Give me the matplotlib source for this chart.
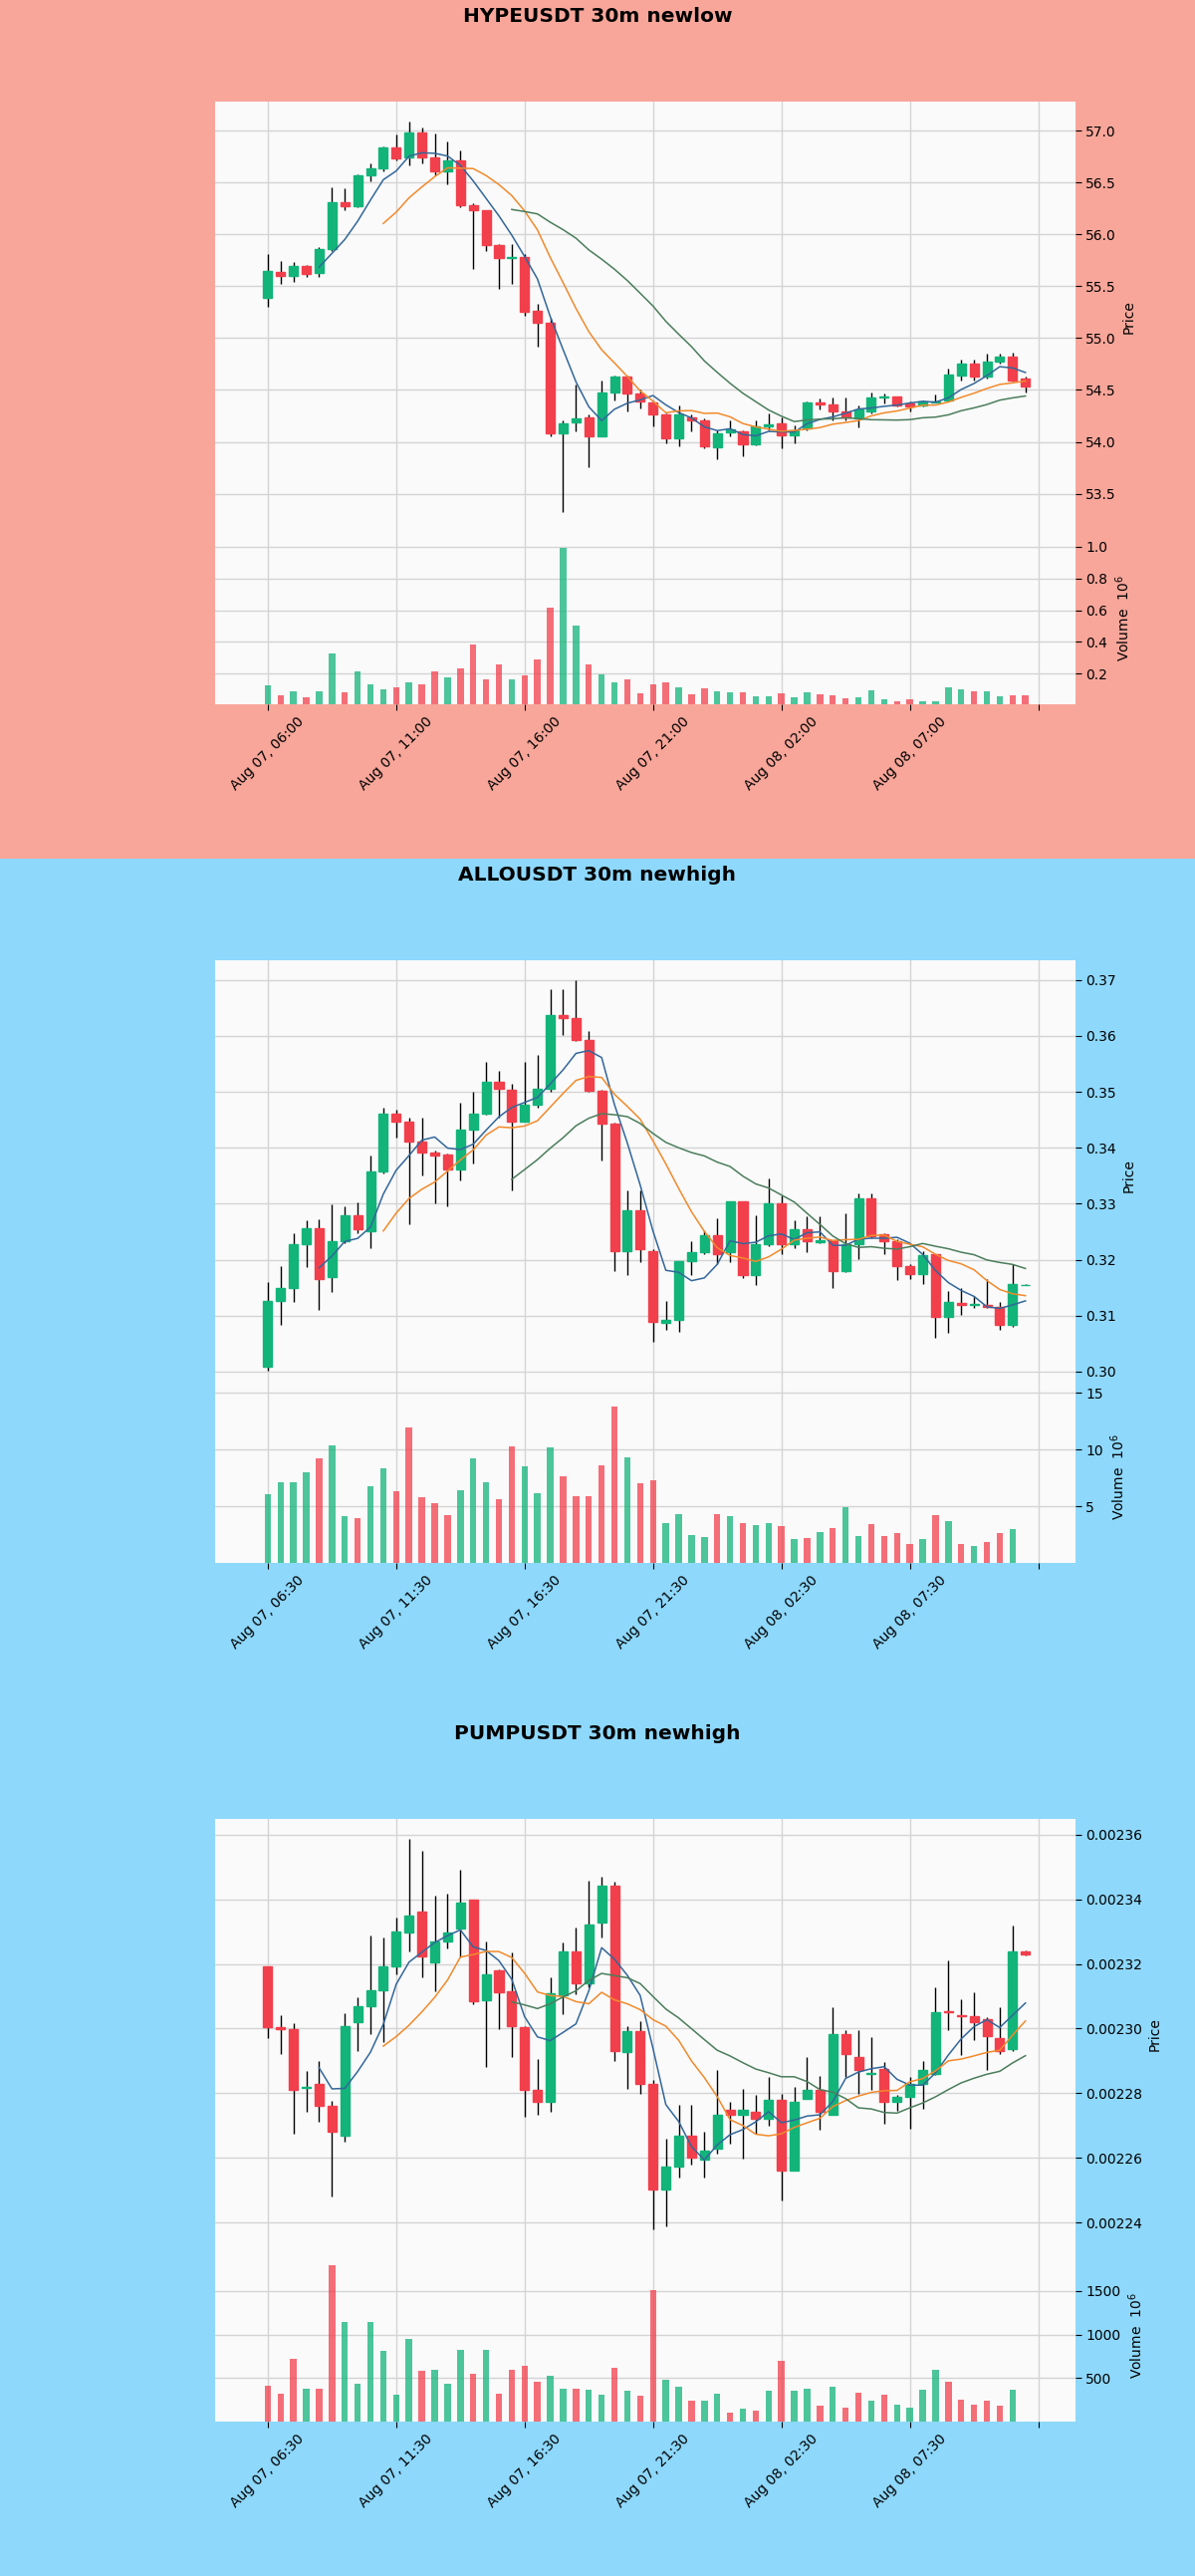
import numpy as np
import pandas as pd
import matplotlib
matplotlib.use('Agg')
import matplotlib.pyplot as plt
from matplotlib.ticker import MultipleLocator, MaxNLocator, FuncFormatter
from matplotlib.patches import Rectangle

# ---------------- data ----------------
titles = ["HYPEUSDT 30m newlow", "ALLOUSDT 30m newhigh", "PUMPUSDT 30m newhigh"]
starts = ["2025-08-07 06:00", "2025-08-07 06:30", "2025-08-07 06:30"]

hype_open = [55.39, 55.64, 55.60, 55.69, 55.63, 55.86, 56.31, 56.27, 56.57, 56.64,
             56.84, 56.74, 56.98, 56.74, 56.61, 56.71, 56.28, 56.23, 55.90, 55.77,
             55.78, 55.26, 55.15, 54.08, 54.19, 54.24, 54.05, 54.48, 54.63, 54.47,
             54.38, 54.26, 54.03, 54.24, 54.21, 53.95, 54.09, 54.10, 53.98, 54.15,
             54.18, 54.06, 54.13, 54.38, 54.36, 54.29, 54.23, 54.29, 54.43, 54.44,
             54.37, 54.35, 54.38, 54.40, 54.64, 54.75, 54.63, 54.77, 54.82, 54.61]
hype_high = [55.81, 55.74, 55.73, 55.70, 55.88, 56.45, 56.44, 56.58, 56.68, 56.85,
             56.96, 57.09, 57.03, 56.97, 56.89, 56.81, 56.30, 56.23, 55.91, 55.91,
             55.81, 55.33, 55.20, 54.21, 54.55, 54.26, 54.59, 54.64, 54.64, 54.50,
             54.40, 54.27, 54.35, 54.26, 54.23, 54.11, 54.21, 54.11, 54.21, 54.27,
             54.24, 54.16, 54.39, 54.42, 54.43, 54.43, 54.35, 54.48, 54.47, 54.44,
             54.39, 54.40, 54.46, 54.71, 54.79, 54.79, 54.85, 54.85, 54.86, 54.63]
hype_low = [55.30, 55.52, 55.54, 55.59, 55.59, 55.84, 56.23, 56.26, 56.51, 56.61,
            56.71, 56.66, 56.68, 56.57, 56.48, 56.26, 55.67, 55.84, 55.47, 55.52,
            55.21, 54.92, 54.05, 53.32, 54.10, 53.76, 54.05, 54.40, 54.29, 54.32,
            54.15, 53.99, 53.96, 54.10, 53.94, 53.83, 54.05, 53.86, 53.97, 54.11,
            53.94, 53.99, 54.11, 54.31, 54.21, 54.21, 54.14, 54.27, 54.37, 54.34,
            54.29, 54.34, 54.38, 54.39, 54.59, 54.59, 54.61, 54.75, 54.58, 54.48]
hype_close = [55.65, 55.60, 55.69, 55.62, 55.86, 56.31, 56.27, 56.57, 56.64, 56.84,
              56.73, 56.98, 56.74, 56.61, 56.71, 56.28, 56.23, 55.90, 55.77, 55.78,
              55.25, 55.15, 54.08, 54.18, 54.23, 54.05, 54.48, 54.63, 54.47, 54.39,
              54.26, 54.03, 54.26, 54.21, 53.96, 54.08, 54.12, 53.98, 54.15, 54.17,
              54.06, 54.11, 54.38, 54.36, 54.29, 54.24, 54.31, 54.43, 54.44, 54.35,
              54.34, 54.39, 54.39, 54.65, 54.75, 54.63, 54.77, 54.82, 54.59, 54.53]
hype_vol_m = [0.126, 0.065, 0.090, 0.048, 0.086, 0.326, 0.084, 0.212, 0.132, 0.099,
              0.111, 0.143, 0.132, 0.216, 0.174, 0.231, 0.384, 0.164, 0.258, 0.164,
              0.189, 0.290, 0.616, 0.994, 0.500, 0.258, 0.195, 0.143, 0.164, 0.076,
              0.132, 0.143, 0.111, 0.069, 0.105, 0.090, 0.080, 0.084, 0.055, 0.055,
              0.074, 0.048, 0.080, 0.069, 0.063, 0.042, 0.053, 0.097, 0.038, 0.023,
              0.038, 0.023, 0.027, 0.116, 0.100, 0.090, 0.090, 0.057, 0.065, 0.065]

allo_open = [0.3008, 0.3127, 0.3150, 0.3227, 0.3257, 0.3169, 0.3233, 0.3280, 0.3251, 0.3358,
             0.3461, 0.3446, 0.3411, 0.3392, 0.3388, 0.3362, 0.3432, 0.3460, 0.3517, 0.3503,
             0.3446, 0.3477, 0.3505, 0.3637, 0.3631, 0.3593, 0.3502, 0.3443, 0.3216, 0.3289,
             0.3216, 0.3087, 0.3093, 0.3198, 0.3214, 0.3243, 0.3213, 0.3304, 0.3172, 0.3227,
             0.3300, 0.3227, 0.3254, 0.3232, 0.3234, 0.3180, 0.3227, 0.3309, 0.3245, 0.3233,
             0.3189, 0.3174, 0.3210, 0.3098, 0.3123, 0.3119, 0.3120, 0.3116, 0.3083, 0.3155]
allo_high = [0.3160, 0.3189, 0.3248, 0.3271, 0.3272, 0.3298, 0.3295, 0.3303, 0.3386, 0.3472,
             0.3468, 0.3453, 0.3453, 0.3395, 0.3389, 0.3480, 0.3500, 0.3553, 0.3537, 0.3515,
             0.3553, 0.3565, 0.3684, 0.3684, 0.3700, 0.3609, 0.3503, 0.3445, 0.3324, 0.3324,
             0.3219, 0.3127, 0.3198, 0.3233, 0.3253, 0.3274, 0.3304, 0.3304, 0.3280, 0.3345,
             0.3315, 0.3271, 0.3277, 0.3277, 0.3234, 0.3283, 0.3318, 0.3319, 0.3248, 0.3236,
             0.3192, 0.3215, 0.3210, 0.3144, 0.3149, 0.3136, 0.3166, 0.3125, 0.3192, 0.3156]
allo_low = [0.3001, 0.3083, 0.3125, 0.3186, 0.3110, 0.3142, 0.3230, 0.3248, 0.3221, 0.3354,
            0.3418, 0.3263, 0.3351, 0.3301, 0.3295, 0.3341, 0.3371, 0.3459, 0.3453, 0.3324,
            0.3446, 0.3471, 0.3500, 0.3601, 0.3591, 0.3500, 0.3377, 0.3180, 0.3172, 0.3195,
            0.3054, 0.3075, 0.3071, 0.3172, 0.3210, 0.3192, 0.3195, 0.3167, 0.3154, 0.3224,
            0.3210, 0.3221, 0.3214, 0.3230, 0.3150, 0.3177, 0.3201, 0.3239, 0.3210, 0.3163,
            0.3165, 0.3157, 0.3060, 0.3070, 0.3101, 0.3113, 0.3114, 0.3075, 0.3080, 0.3154]
allo_close = [0.3127, 0.3150, 0.3227, 0.3257, 0.3166, 0.3233, 0.3280, 0.3254, 0.3358, 0.3461,
              0.3446, 0.3411, 0.3392, 0.3386, 0.3362, 0.3432, 0.3460, 0.3517, 0.3505, 0.3446,
              0.3477, 0.3505, 0.3637, 0.3631, 0.3593, 0.3502, 0.3443, 0.3216, 0.3289, 0.3218,
              0.3089, 0.3093, 0.3198, 0.3214, 0.3243, 0.3210, 0.3304, 0.3172, 0.3227, 0.3300,
              0.3227, 0.3254, 0.3233, 0.3234, 0.3180, 0.3227, 0.3309, 0.3242, 0.3233, 0.3189,
              0.3174, 0.3209, 0.3098, 0.3125, 0.3119, 0.3121, 0.3116, 0.3083, 0.3157, 0.3155]
allo_vol_m = [6.08, 7.16, 7.16, 8.04, 9.24, 10.40, 4.15, 3.95, 6.78, 8.36,
              6.37, 11.99, 5.82, 5.32, 4.24, 6.43, 9.24, 7.16, 5.64, 10.29,
              8.51, 6.17, 10.23, 7.66, 5.94, 5.94, 8.65, 13.83, 9.36, 7.02,
              7.31, 3.54, 4.33, 2.46, 2.34, 4.33, 4.18, 3.54, 3.36, 3.51,
              3.27, 2.13, 2.22, 2.75, 3.10, 4.97, 2.40, 3.45, 2.37, 2.66,
              1.70, 2.08, 4.24, 3.74, 1.70, 1.52, 1.84, 2.69, 3.01, 0.05]

pump_open = [0.0023191, 0.0023006, 0.0022999, 0.0022818, 0.0022830, 0.0022760, 0.0022670, 0.0023020, 0.0023069, 0.0023119,
             0.0023191, 0.0023297, 0.0023361, 0.0023205, 0.0023271, 0.0023310, 0.0023398, 0.0023088, 0.0023179, 0.0023117,
             0.0023006, 0.0022811, 0.0022773, 0.0023102, 0.0023240, 0.0023140, 0.0023328, 0.0023441, 0.0022927, 0.0022991,
             0.0022830, 0.0022501, 0.0022573, 0.0022670, 0.0022595, 0.0022629, 0.0022749, 0.0022732, 0.0022742, 0.0022722,
             0.0022780, 0.0022562, 0.0022783, 0.0022811, 0.0022732, 0.0022984, 0.0022912, 0.0022861, 0.0022876, 0.0022773,
             0.0022789, 0.0022830, 0.0022861, 0.0023053, 0.0023040, 0.0023038, 0.0023030, 0.0022971, 0.0022937, 0.0023240]
pump_high = [0.0023191, 0.0023040, 0.0023017, 0.0022869, 0.0022901, 0.0022778, 0.0023047, 0.0023097, 0.0023287, 0.0023282,
             0.0023343, 0.0023588, 0.0023551, 0.0023412, 0.0023418, 0.0023491, 0.0023400, 0.0023271, 0.0023184, 0.0023237,
             0.0023009, 0.0022907, 0.0023158, 0.0023266, 0.0023312, 0.0023459, 0.0023469, 0.0023455, 0.0023009, 0.0023023,
             0.0022840, 0.0022660, 0.0022763, 0.0022763, 0.0022681, 0.0022871, 0.0022773, 0.0022814, 0.0022794, 0.0022850,
             0.0022799, 0.0022821, 0.0022912, 0.0022855, 0.0023066, 0.0022994, 0.0022994, 0.0022973, 0.0022896, 0.0022794,
             0.0022850, 0.0022901, 0.0023128, 0.0023210, 0.0023092, 0.0023112, 0.0023035, 0.0023066, 0.0023320, 0.0023242]
pump_low = [0.0022971, 0.0022922, 0.0022676, 0.0022742, 0.0022711, 0.0022480, 0.0022650, 0.0022932, 0.0022984, 0.0022958,
            0.0023169, 0.0023240, 0.0023160, 0.0023117, 0.0023249, 0.0023220, 0.0023074, 0.0022881, 0.0022999, 0.0022912,
            0.0022727, 0.0022732, 0.0022742, 0.0023045, 0.0023107, 0.0023127, 0.0023282, 0.0022901, 0.0022814, 0.0022799,
            0.0022378, 0.0022388, 0.0022540, 0.0022578, 0.0022540, 0.0022614, 0.0022645, 0.0022597, 0.0022676, 0.0022701,
            0.0022470, 0.0022562, 0.0022783, 0.0022686, 0.0022732, 0.0022850, 0.0022799, 0.0022809, 0.0022706, 0.0022747,
            0.0022691, 0.0022753, 0.0022856, 0.0022994, 0.0022917, 0.0022963, 0.0022871, 0.0022922, 0.0022930, 0.0023225]
pump_close = [0.0023006, 0.0022999, 0.0022809, 0.0022819, 0.0022760, 0.0022681, 0.0023007, 0.0023069, 0.0023119, 0.0023191,
              0.0023299, 0.0023350, 0.0023222, 0.0023269, 0.0023297, 0.0023389, 0.0023086, 0.0023167, 0.0023112, 0.0023009,
              0.0022811, 0.0022773, 0.0023109, 0.0023240, 0.0023140, 0.0023321, 0.0023441, 0.0022932, 0.0022991, 0.0022828,
              0.0022501, 0.0022573, 0.0022670, 0.0022602, 0.0022624, 0.0022732, 0.0022732, 0.0022749, 0.0022722, 0.0022780,
              0.0022562, 0.0022773, 0.0022811, 0.0022742, 0.0022984, 0.0022920, 0.0022871, 0.0022863, 0.0022773, 0.0022789,
              0.0022830, 0.0022871, 0.0023051, 0.0023051, 0.0023038, 0.0023020, 0.0022978, 0.0022930, 0.0023240, 0.0023228]
pump_vol_m = [410, 316, 718, 372, 372, 1797, 1143, 429, 1139, 812,
              305, 951, 587, 594, 429, 823, 549, 823, 316, 598,
              643, 459, 530, 380, 372, 361, 305, 613, 350, 293,
              1508, 481, 406, 237, 237, 316, 109, 147, 124, 350,
              692, 350, 380, 180, 399, 162, 331, 237, 305, 192,
              165, 361, 598, 462, 248, 192, 237, 180, 361, 2]

ma_windows = [5, 10, 20]

# ---------------- style ----------------
W, H = 1200, 2586
PANEL_H = 862
BG = ['#F8A69A', '#8ED8FC', '#8ED8FC']
UP = '#12B47A'
DOWN = '#F23F4C'
MA_COLORS = ['#33679a', '#f28a2c', '#4b7d5c']

fig = plt.figure(figsize=(W / 100, H / 100), dpi=100)
fig.patch.set_facecolor(BG[1])


def fy(px):
    return 1 - px / H


def draw_panel(k, title, start, o, h, l, c, vol):
    o, h, l, c, vol = map(np.asarray, (o, h, l, c, vol))
    n = len(o)
    top = k * PANEL_H
    fig.add_artist(Rectangle((0, fy(top + PANEL_H)), 1, PANEL_H / H,
                             transform=fig.transFigure, facecolor=BG[k],
                             edgecolor='none', zorder=-10))
    fig.text(0.5, fy(top + 16), title, ha='center', va='center',
             fontsize=14.5, fontweight='bold')

    left, right = 216 / W, 1080 / W
    axp = fig.add_axes([left, fy(top + 534), right - left, (534 - 102) / H])
    axv = fig.add_axes([left, fy(top + 707), right - left, (707 - 534) / H], sharex=axp)

    x = np.arange(n)
    up = c >= o
    cols = np.where(up, UP, DOWN)

    # candles
    axp.vlines(x, l, h, color='black', linewidth=1.0, zorder=2)
    axp.bar(x, np.abs(c - o), bottom=np.minimum(o, c), width=0.7,
            color=cols, edgecolor=cols, linewidth=1.0, zorder=3)
    s = pd.Series(c)
    for w, col in zip(ma_windows, MA_COLORS):
        axp.plot(x, s.rolling(w).mean(), color=col, linewidth=1.1, zorder=4)

    rng = h.max() - l.min()
    axp.set_ylim(l.min() - 0.05 * rng, h.max() + 0.05 * rng)
    axp.yaxis.set_major_locator(MaxNLocator(nbins=10, steps=[1, 2, 2.5, 5, 10]))

    # volume
    axv.bar(x, vol, width=0.5, color=cols, alpha=0.75, zorder=3)
    axv.set_ylim(0.3 * vol.min(), 1.1 * vol.max())

    dates = pd.date_range(start, periods=n, freq='30min')

    def fmt(val, pos):
        i = int(round(val))
        if 0 <= i < n:
            return dates[i].strftime('%b %d, %H:%M')
        return ''

    axp.set_xlim(-4.1, 62.9)
    axv.xaxis.set_major_locator(MultipleLocator(10))
    axv.xaxis.set_major_formatter(FuncFormatter(fmt))

    for ax in (axp, axv):
        ax.set_facecolor('#fafafa')
        ax.grid(True, color='#d4d4d4', linewidth=1.0)
        ax.set_axisbelow(True)
        for sp in ax.spines.values():
            sp.set_visible(False)
        ax.yaxis.tick_right()
        ax.yaxis.set_label_position('right')
        ax.tick_params(axis='both', labelsize=10, length=4, width=0.8)
    axp.tick_params(axis='x', bottom=False, labelbottom=False)
    for lab in axv.get_xticklabels():
        lab.set_rotation(45)
        lab.set_ha('center')
    axp.set_ylabel('Price', fontsize=10)
    axv.set_ylabel('Volume  $10^{6}$', fontsize=10)


draw_panel(0, titles[0], starts[0], hype_open, hype_high, hype_low, hype_close, hype_vol_m)
draw_panel(1, titles[1], starts[1], allo_open, allo_high, allo_low, allo_close, allo_vol_m)
draw_panel(2, titles[2], starts[2], pump_open, pump_high, pump_low, pump_close, pump_vol_m)

fig.savefig('out.png', dpi=100, facecolor=fig.get_facecolor())
